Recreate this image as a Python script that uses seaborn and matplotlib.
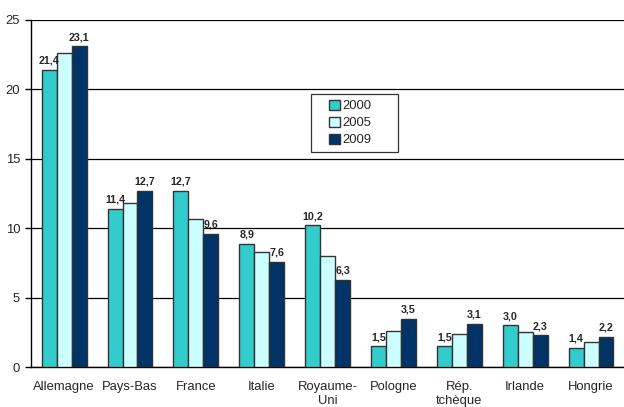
import pandas as pd
import matplotlib
matplotlib.use('Agg')
import matplotlib.pyplot as plt
from matplotlib.patches import Rectangle
import seaborn as sns
import numpy as np

# Values
countries = ['Allemagne', 'Pays-Bas', 'France', 'Italie', 'Royaume-\nUni',
             'Pologne', 'Rép.\ntchèque', 'Irlande', 'Hongrie']
years = ['2000', '2005', '2009']
values_2000 = [21.4, 11.4, 12.7, 8.9, 10.2, 1.5, 1.5, 3.0, 1.4]
values_2005 = [22.6, 11.8, 10.7, 8.3, 8.0, 2.6, 2.4, 2.5, 1.8]
values_2009 = [23.1, 12.7, 9.6, 7.6, 6.3, 3.5, 3.1, 2.3, 2.2]
colors = ['#33CCCC', '#CCFFFF', '#003366']

# Build a long-form table for seaborn
df = pd.DataFrame({
    'Pays': countries * 3,
    'Annee': np.repeat(years, len(countries)),
    'Valeur': values_2000 + values_2005 + values_2009,
})

sns.set_theme(style='white')
plt.rcParams['font.family'] = ['Liberation Sans', 'DejaVu Sans']

fig = plt.figure(figsize=(6.24, 4.07), dpi=100)
ax = fig.add_axes([0.05, 0.098, 0.95, 0.853])

sns.barplot(data=df, x='Pays', y='Valeur', hue='Annee', palette=colors,
            width=0.68, edgecolor='#333333', linewidth=1.0, saturation=1,
            ax=ax, zorder=3)

# Value labels only for 2000 and 2009
for idx in [0, 2]:
    cont = ax.containers[idx]
    labels = [f'{v:.1f}'.replace('.', ',') for v in cont.datavalues]
    ax.bar_label(cont, labels=labels, padding=3, fontsize=7.7, fontweight='bold')

ax.set_ylim(0, 25)
ax.set_xlim(-0.5, len(countries) - 0.5)
ax.set_yticks(range(0, 26, 5))
ax.yaxis.grid(True, color='black', linewidth=0.9, zorder=0)
ax.set_axisbelow(True)

# Tick marks between groups
ax.set_xticks(np.arange(0.5, len(countries) - 0.5, 1), minor=True)
ax.tick_params(axis='x', which='major', length=0, labelsize=9.4, pad=10)
ax.tick_params(axis='x', which='minor', length=4, width=1, color='black', direction='out')
ax.tick_params(axis='y', length=4, width=1, color='black', direction='out',
               labelsize=9.4, left=True, pad=4)

for s in ['top', 'right']:
    ax.spines[s].set_visible(False)
for s in ['left', 'bottom']:
    ax.spines[s].set_color('black')
    ax.spines[s].set_linewidth(1)

ax.set_xlabel('')
ax.set_ylabel('')

# Legend with a wider box drawn around it
leg = ax.legend(loc='center', bbox_to_anchor=(0.5385, 0.7035), fontsize=9.4,
                frameon=False, handlelength=0.8, handleheight=0.8,
                handletextpad=0.2, labelspacing=0.35, borderpad=0.3)
for h in leg.legend_handles:
    h.set_edgecolor('#333333')
ax.add_patch(Rectangle((0.4716, 0.620), 0.147, 0.167, transform=ax.transAxes,
                       fill=True, facecolor='white', edgecolor='#333333',
                       linewidth=0.9, zorder=4))
leg.set_zorder(5)

plt.savefig('out.png', dpi=100)
